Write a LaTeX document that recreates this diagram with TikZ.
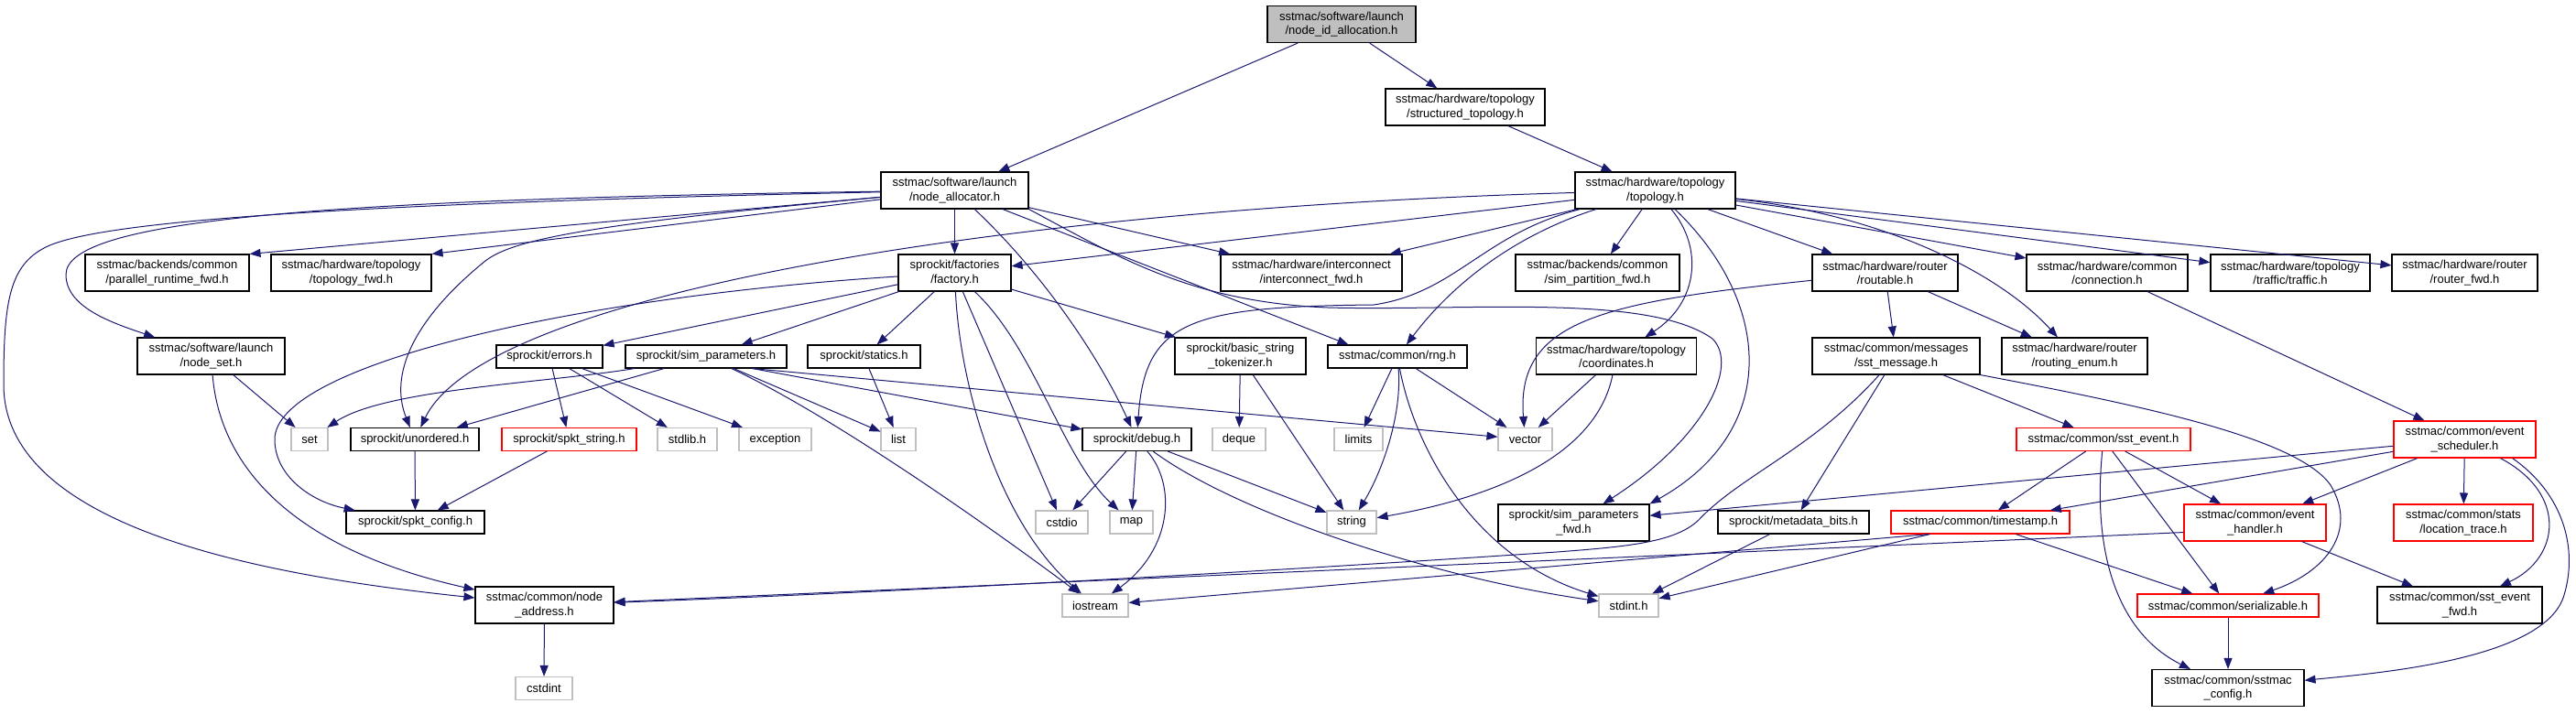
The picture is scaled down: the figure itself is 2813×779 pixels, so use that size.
\documentclass[tikz,border=0pt]{standalone}
\usepackage{fontspec}
\setmainfont{Liberation Sans}
\usetikzlibrary{arrows.meta}
\definecolor{edgeblue}{HTML}{191970}
\definecolor{sysgray}{HTML}{BFBFBF}
\begin{document}
\begin{tikzpicture}[x=1pt, y=-1pt,
  font=\fontsize{13}{15.3}\selectfont,
  hdr/.style={draw=black, line width=1.1pt, align=center, inner sep=2pt, minimum height=25pt},
  hdr2/.style={hdr, minimum height=40pt},
  sys/.style={hdr, draw=sysgray},
  cut/.style={hdr, draw=red},
  cut2/.style={hdr2, draw=red},
  dep/.style={draw=edgeblue, line width=1pt, -{Triangle[length=12pt, width=9pt]}}]
\useasboundingbox (0,0) rectangle (2813,779);

\node[hdr2, fill=sysgray, minimum width=162pt] (root) at (1465,26.5) {sstmac/software/launch\\/node\_id\_allocation.h};
\node[hdr2, minimum width=161pt] (nalloc) at (1042.5,208) {sstmac/software/launch\\/node\_allocator.h};
\node[hdr2, minimum width=174pt] (stopo) at (1600,117) {sstmac/hardware/topology\\/structured\_topology.h};
\node[hdr2, minimum width=175pt] (topo) at (1807.5,208) {sstmac/hardware/topology\\/topology.h};

\node[hdr2, minimum width=179pt] (prtfwd) at (182.5,298) {sstmac/backends/common\\/parallel\_runtime\_fwd.h};
\node[hdr2, minimum width=175pt] (topofwd) at (383.5,298) {sstmac/hardware/topology\\/topology\_fwd.h};
\node[hdr2, minimum width=123pt] (factory) at (1042.5,298) {sprockit/factories\\/factory.h};
\node[hdr2, minimum width=198pt] (icfwd) at (1432,298) {sstmac/hardware/interconnect\\/interconnect\_fwd.h};
\node[hdr2, minimum width=179pt] (partfwd) at (1744.5,298) {sstmac/backends/common\\/sim\_partition\_fwd.h};
\node[hdr2, minimum width=159pt] (routable) at (2058.5,298) {sstmac/hardware/router\\/routable.h};
\node[hdr2, minimum width=176pt] (conn) at (2301,298) {sstmac/hardware/common\\/connection.h};
\node[hdr2, minimum width=174pt] (traffic) at (2501,298) {sstmac/hardware/topology\\/traffic/traffic.h};
\node[hdr2, minimum width=159pt] (routerfwd) at (2691.5,298) {sstmac/hardware/router\\/router\_fwd.h};

\node[hdr2, minimum width=161pt] (nodeset) at (230.5,389) {sstmac/software/launch\\/node\_set.h};
\node[hdr, minimum width=116pt] (errors) at (600,389.5) {sprockit/errors.h};
\node[hdr, minimum width=176pt] (simparams) at (771,389.5) {sprockit/sim\_parameters.h};
\node[hdr, minimum width=123pt] (statics) at (943.5,389.5) {sprockit/statics.h};
\node[hdr2, minimum width=143pt] (tokenizer) at (1354.5,389) {sprockit/basic\_string\\\_tokenizer.h};
\node[hdr, minimum width=152pt] (rng) at (1526,389.5) {sstmac/common/rng.h};
\node[hdr2, minimum width=175pt] (coords) at (1765,389) {sstmac/hardware/topology\\/coordinates.h};
\node[hdr2, minimum width=183pt] (sstmsg) at (2070.5,389) {sstmac/common/messages\\/sst\_message.h};
\node[hdr2, minimum width=159pt] (routenum) at (2265.5,389) {sstmac/hardware/router\\/routing\_enum.h};

\node[sys, minimum width=40pt] (set) at (338,480) {set};
\node[hdr, minimum width=140pt] (unordered) at (453,480) {sprockit/unordered.h};
\node[cut, minimum width=147pt] (spktstring) at (621.5,480) {sprockit/spkt\_string.h};
\node[sys, minimum width=65pt] (stdlib) at (750.5,480) {stdlib.h};
\node[sys, minimum width=79pt] (exception) at (846.5,480) {exception};
\node[sys, minimum width=38pt] (list) at (981,480) {list};
\node[hdr, minimum width=119pt] (debug) at (1241.5,480) {sprockit/debug.h};
\node[sys, minimum width=58pt] (deque) at (1353,480) {deque};
\node[sys, minimum width=53pt] (limits) at (1483.5,480) {limits};
\node[sys, minimum width=59pt] (vector) at (1665.5,480) {vector};
\node[cut, minimum width=190pt] (sstevent) at (2297,480) {sstmac/common/sst\_event.h};
\node[cut2, minimum width=155pt] (evsched) at (2691.5,480) {sstmac/common/event\\\_scheduler.h};

\node[hdr, minimum width=151pt] (spktconfig) at (453.5,570.5) {sprockit/spkt\_config.h};
\node[sys, minimum width=57pt] (cstdio) at (1159.5,570.5) {cstdio};
\node[sys, minimum width=47pt] (map) at (1235.5,570.5) {map};
\node[sys, minimum width=54pt] (string) at (1476,570.5) {string};
\node[hdr2, minimum width=165pt] (paramsfwd) at (1718.5,571) {sprockit/sim\_parameters\\\_fwd.h};
\node[hdr, minimum width=165pt] (metabits) at (1958.5,570.5) {sprockit/metadata\_bits.h};
\node[cut, minimum width=195pt] (timestamp) at (2162.5,570.5) {sstmac/common/timestamp.h};
\node[cut2, minimum width=155pt] (evhandler) at (2462.5,571) {sstmac/common/event\\\_handler.h};
\node[cut2, minimum width=152pt] (loctrace) at (2690,571) {sstmac/common/stats\\/location\_trace.h};

\node[hdr2, minimum width=151pt] (nodeaddr) at (594.5,661) {sstmac/common/node\\\_address.h};
\node[sys, minimum width=72pt] (iostream) at (1196,661.5) {iostream};
\node[sys, minimum width=65pt] (stdint) at (1778.5,661.5) {stdint.h};
\node[cut, minimum width=198pt] (serial) at (2433,661.5) {sstmac/common/serializable.h};
\node[hdr2, minimum width=180pt] (evfwd) at (2686,661) {sstmac/common/sst\_event\\\_fwd.h};

\node[sys, minimum width=62pt] (cstdint) at (594,752) {cstdint};
\node[hdr2, minimum width=166pt] (sstconfig) at (2433,751.5) {sstmac/common/sstmac\\\_config.h};

\draw[dep] (root) -- (nalloc);
\draw[dep] (root) -- (stopo);
\draw[dep] (stopo) -- (topo);

\draw[dep] (nalloc) .. controls (350,218) and (72,240) .. (72,300) .. controls (72,335) and (120,352) .. (nodeset);
\draw[dep] (nalloc) .. controls (400,222) and (110,240) .. (50,270) .. controls (10,290) and (4,330) .. (4,420) .. controls (4,580) and (300,630) .. (nodeaddr);
\draw[dep] (nalloc) -- (prtfwd.north east);
\draw[dep] (nalloc) -- (topofwd.north east);
\draw[dep] (nalloc) .. controls (640,245) and (560,262) .. (530,285) .. controls (450,350) and (425,410) .. (unordered);
\draw[dep] (nalloc) -- (factory);
\draw[dep] (nalloc) .. controls (1140,300) and (1200,390) .. (debug);
\draw[dep] (nalloc) -- ([xshift=23pt]rng.north west);
\draw[dep] (nalloc) -- (icfwd);
\draw[dep] (nalloc.south east) .. controls (1220,280) and (1300,330) .. (1450,336) .. controls (1600,340) and (1800,320) .. (1870,370) .. controls (1900,400) and (1860,480) .. (paramsfwd);

\draw[dep] (topo) .. controls (1100,228) and (530,320) .. (unordered);
\draw[dep] (topo) -- (factory);
\draw[dep] (topo) -- (icfwd);
\draw[dep] (topo) .. controls (1620,255) and (1590,320) .. (1500,333) .. controls (1300,335) and (1250,350) .. (debug);
\draw[dep] (topo) .. controls (1660,255) and (1590,305) .. (rng);
\draw[dep] (topo) -- (partfwd);
\draw[dep] (topo) .. controls (1860,270) and (1855,330) .. (coords);
\draw[dep] (topo) .. controls (1935,330) and (1945,470) .. (paramsfwd.north east);
\draw[dep] (topo) -- (routable);
\draw[dep] (topo) .. controls (2060,235) and (2185,300) .. (routenum);
\draw[dep] (topo) -- (conn);
\draw[dep] (topo) -- (traffic);
\draw[dep] (topo) -- (routerfwd);

\draw[dep] (factory) -- (errors);
\draw[dep] (factory) -- (simparams);
\draw[dep] (factory) -- (statics);
\draw[dep] (factory) .. controls (620,325) and (300,400) .. (300,480) .. controls (300,520) and (340,548) .. (spktconfig);
\draw[dep] (factory) -- (tokenizer);
\draw[dep] (factory) -- (cstdio);
\draw[dep] (factory) .. controls (1130,380) and (1160,500) .. (map);
\draw[dep] (factory) .. controls (1048,420) and (1090,570) .. (iostream);

\draw[dep] (nodeset) -- (set);
\draw[dep] (nodeset) .. controls (240,510) and (320,600) .. (nodeaddr);

\draw[dep] (errors) -- (spktstring);
\draw[dep] (errors) -- (stdlib);
\draw[dep] (errors) -- (exception);
\draw[dep] (spktstring) -- (spktconfig);
\draw[dep] (unordered) -- (spktconfig);
\draw[dep] (simparams) .. controls (600,418) and (420,425) .. (set);
\draw[dep] (simparams) -- (unordered);
\draw[dep] (simparams) -- (list);
\draw[dep] ([xshift=-38pt]simparams.south east) -- (debug);
\draw[dep] ([xshift=-38pt]simparams.south east) -- (vector);
\draw[dep] (simparams) .. controls (900,450) and (1060,560) .. (iostream);
\draw[dep] (statics) -- (list);
\draw[dep] (tokenizer) -- (deque);
\draw[dep] (tokenizer) -- (string);
\draw[dep] (debug) -- (cstdio);
\draw[dep] (debug) -- (map);
\draw[dep] (debug) .. controls (1285,530) and (1280,600) .. (iostream);
\draw[dep] (debug) -- (string);
\draw[dep] (debug) .. controls (1350,560) and (1560,630) .. (stdint);

\draw[dep] (rng) -- (limits);
\draw[dep] (rng) -- (vector);
\draw[dep] (rng) .. controls (1531,450) and (1512,510) .. (string);
\draw[dep] (rng) .. controls (1545,490) and (1610,610) .. (stdint);
\draw[dep] (coords) -- (vector);
\draw[dep] (coords) .. controls (1745,490) and (1650,540) .. (string);
\draw[dep] (routable) .. controls (1750,330) and (1655,350) .. (vector);
\draw[dep] (routable) -- (routenum);
\draw[dep] (routable) -- (sstmsg);

\draw[dep] (sstmsg) .. controls (1980,490) and (1900,520) .. (1855,568) .. controls (1830,592) and (1780,597) .. (1700,603) .. controls (1300,630) and (900,650) .. (nodeaddr);
\draw[dep] (sstmsg) -- (metabits);
\draw[dep] (sstmsg) -- (sstevent);
\draw[dep] (sstmsg.south east) .. controls (2350,445) and (2510,480) .. (2545,530) .. controls (2575,580) and (2540,625) .. (serial);
\draw[dep] (metabits) -- (stdint);
\draw[dep] (conn) -- (evsched);

\draw[dep] (sstevent) -- (timestamp);
\draw[dep] (sstevent) -- (evhandler);
\draw[dep] (sstevent) -- (serial);
\draw[dep] (sstevent) .. controls (2285,600) and (2310,690) .. (sstconfig);
\draw[dep] (evsched) -- (paramsfwd);
\draw[dep] (evsched) -- (timestamp);
\draw[dep] (evsched) -- (evhandler);
\draw[dep] (evsched) -- (loctrace);
\draw[dep] (evsched) .. controls (2805,540) and (2795,610) .. (evfwd);
\draw[dep] ([xshift=-26pt]evsched.south east) .. controls (2800,540) and (2815,600) .. (2800,650) .. controls (2780,720) and (2600,735) .. (sstconfig);
\draw[dep] ([xshift=42pt]timestamp.south west) -- (iostream);
\draw[dep] (timestamp) -- (stdint);
\draw[dep] (timestamp) -- (serial);
\draw[dep] ([yshift=10pt]evhandler.south west) -- (nodeaddr);
\draw[dep] (evhandler) -- (evfwd);
\draw[dep] (serial) -- (sstconfig);
\draw[dep] (nodeaddr) -- (cstdint);
\end{tikzpicture}
\end{document}
